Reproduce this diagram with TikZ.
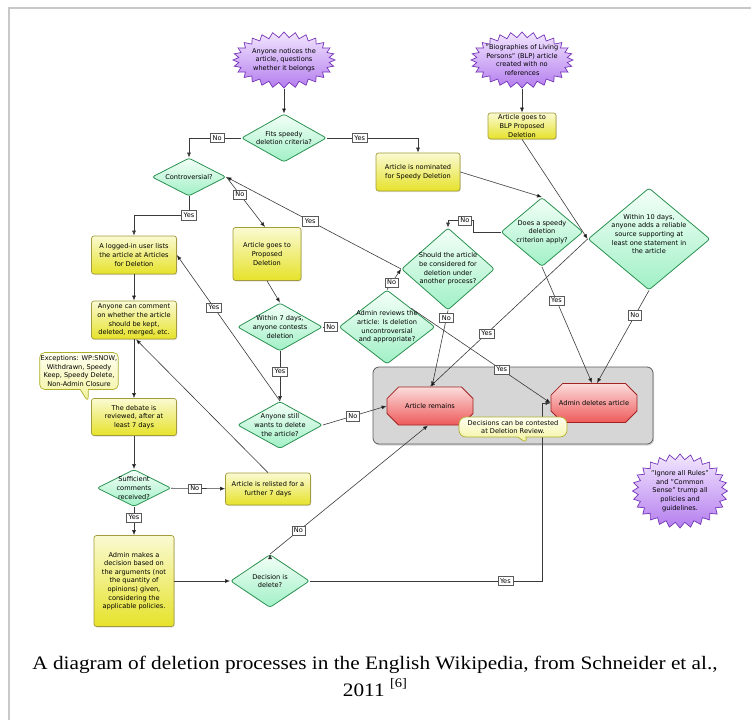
\documentclass[tikz,border=0pt]{standalone}
\usepackage{fontspec}
\setmainfont{Liberation Serif}
\setsansfont{DejaVu Sans}
\newfontfamily\capfont[FakeStretch=1.12]{Liberation Serif}
\usetikzlibrary{shapes.geometric,shapes.symbols,shapes.misc,shapes.callouts,arrows.meta,shadows}

\definecolor{boxtop}{HTML}{FAFAD2}
\definecolor{boxbot}{HTML}{E6E22A}
\definecolor{boxline}{HTML}{A39C3A}
\definecolor{qtop}{HTML}{F4FFF8}
\definecolor{qbot}{HTML}{A0F0C6}
\definecolor{qline}{HTML}{2A9150}
\definecolor{startop}{HTML}{F2E6FF}
\definecolor{starbot}{HTML}{B47EEE}
\definecolor{starline}{HTML}{7434B8}
\definecolor{endtop}{HTML}{FCDCDC}
\definecolor{endbot}{HTML}{EE5A5A}
\definecolor{endline}{HTML}{A22222}
\definecolor{notetop}{HTML}{FFFFF0}
\definecolor{notebot}{HTML}{F2F29A}
\definecolor{noteline}{HTML}{AFAF2E}
\definecolor{zonefill}{HTML}{D6D6D6}
\definecolor{zoneline}{HTML}{5E5E5E}
\definecolor{wire}{HTML}{3A3A3A}
\definecolor{frame}{HTML}{C8C8C8}

\begin{document}
\begin{tikzpicture}[x=1pt, y=-1pt, >={Latex[length=5pt,width=4pt]},
    every node/.style={font=\sffamily\fontsize{6.6}{8.6}\selectfont, align=center, text=black},
    size/.style 2 args={minimum width=#1pt, minimum height=#2pt},
    text node/.style={inner sep=0pt},
    say/.style={label={[text node]center:#1}},
    box node/.style={rectangle, rounded corners=2.5pt, draw=boxline, line width=0.7pt,
      top color=boxtop, bottom color=boxbot, inner sep=0.8pt,
      drop shadow={opacity=0.25, shadow xshift=0.8pt, shadow yshift=-1pt}},
    choice node/.style={diamond, rounded corners=2.5pt, draw=qline, line width=0.8pt,
      top color=qtop, bottom color=qbot, inner sep=0pt},
    star node/.style={starburst, starburst points=28, starburst point height=5.5pt,
      random starburst=0, draw=starline, line width=0.7pt,
      top color=startop, bottom color=starbot, inner sep=0pt},
    stop node/.style={chamfered rectangle, chamfered rectangle xsep=13pt,
      chamfered rectangle ysep=9pt, draw=endline, line width=0.8pt,
      top color=endtop, bottom color=endbot, inner sep=0pt},
    note node/.style={rectangle callout, rounded corners=5pt, draw=noteline, line width=0.7pt,
      top color=notetop, bottom color=notebot, callout pointer width=8pt, inner sep=1pt},
    zone node/.style={rectangle, rounded corners=6pt, draw=zoneline, line width=0.8pt,
      fill=zonefill, drop shadow={opacity=0.35, shadow xshift=1pt, shadow yshift=-1.5pt}},
    tag node/.style={rectangle, draw=black!65, fill=white, line width=0.5pt, text=black,
      inner xsep=2.2pt, inner ysep=1.5pt, text height=5.2pt, text depth=1.2pt},
    flow/.style={draw=wire, line width=0.6pt, ->}]

  \useasboundingbox (0,0) rectangle (751,720);
  \draw[frame, line width=1.5pt] (9,720) -- (9,8) -- (751,8);

  \node[zone node, size={280}{77}] (22) at (513,405.5) {};

  \node[star node, size={102}{56}, say={Anyone notices the\\article, questions\\whether it belongs}] (1) at (284,60) {};
  \node[choice node, size={85}{48}, say={Fits speedy\\deletion criteria?}] (2) at (284,138) {};
  \node[choice node, size={74}{38}, say={Controversial?}] (3) at (189,177) {};
  \node[box node, size={84}{38}] (4) at (418,172) {Article is nominated\\for Speedy Deletion};
  \node[star node, size={102}{56}, say={"Biographies of Living\\Persons" (BLP) article\\created with no\\references}] (5) at (522,60) {};
  \node[box node, size={68}{26}, inner ysep=0pt] (6) at (522,126) {Article goes to\\BLP Proposed\\Deletion};
  \node[choice node, size={82}{69}, say={Does a speedy\\deletion\\criterion apply?}] (7) at (542,232) {};
  \node[choice node, size={122}{102}, label={[text node, yshift=5pt]center:Within 10 days,\\anyone adds a reliable\\source supporting at\\least one statement in\\the article}] (8) at (649,239) {};
  \node[choice node, size={93}{82}, say={Should the article\\be considered for\\deletion under\\another process?}] (9) at (448,269) {};
  \node[choice node, size={96}{74}, say={Admin reviews the\\article: Is deletion\\uncontroversial\\and appropriate?}] (10) at (387,327) {};
  \node[box node, size={68}{53}] (11) at (267,254) {Article goes to\\Proposed\\Deletion};
  \node[choice node, size={85}{48}, say={Within 7 days,\\anyone contests\\deletion}] (12) at (280,327) {};
  \node[choice node, size={85}{47}, say={Anyone still\\wants to delete\\the article?}] (13) at (280,425) {};
  \node[box node, size={85}{38}] (14) at (134,255) {A logged-in user lists\\the article at Articles\\for Deletion};
  \node[box node, size={85}{38}] (15) at (134,320) {Anyone can comment\\on whether the article\\should be kept,\\deleted, merged, etc.};
  \node[note node, size={78}{37}, callout absolute pointer={(88,402)}] (16) at (79,371) {Exceptions: WP:SNOW,\\Withdrawn, Speedy\\Keep, Speedy Delete,\\Non-Admin Closure};
  \node[box node, size={85}{37}] (17) at (134,417) {The debate is\\reviewed, after at\\least 7 days};
  \node[choice node, size={74}{37}, say={Sufficient\\comments\\received?}] (18) at (134,488) {};
  \node[box node, size={85}{32}] (19) at (268,489) {Article is relisted for a\\further 7 days};
  \node[box node, size={80}{91}] (20) at (134,581) {Admin makes a\\decision based on\\the arguments (not\\the quantity of\\opinions) given,\\considering the\\applicable policies.};
  \node[choice node, size={79}{53}, say={Decision is\\delete?}] (21) at (270,581) {};
  \node[stop node, size={86}{38}] (23) at (430,406) {Article remains};
  \node[stop node, size={86}{39}] (24) at (594,403) {Admin deletes article};
  \node[star node, size={95}{74}, say={"Ignore all Rules"\\and "Common\\Sense" trump all\\policies and\\guidelines.}] (26) at (680,491) {};

  \path[flow]
    (1) edge (2)
    (5) edge (6)
    (4.east) edge (7.north)
    (6.south) edge (8.west)
    (11.south) edge (12.north)
    (14) edge (15)
    (15) edge (17)
    (17) edge (18)
    (20) edge (21)
    (19.north) edge ([xshift=2pt]15.south)
    (12) edge node[tag node] {No} (10)
    (12) edge node[tag node, pos=0.41] {Yes} (13)
    (13.north) edge node[tag node, pos=0.64] {Yes} (14.east)
    (13.east) edge node[tag node, pos=0.47] {No} (23.west)
    (18) edge node[tag node, pos=0.44] {No} (19)
    (18) edge node[tag node, pos=0.38] {Yes} (20)
    (3.east) edge node[tag node, pos=0.35] {No} ([xshift=-2pt]11.north)
    (9.west) edge node[tag node, pos=0.52] {Yes} (3.east)
    (10.north) edge node[tag node, pos=0.33] {No} (9.west)
    (10.north east) edge node[tag node, pos=0.65] {Yes} (24.west)
    (9.south) edge node[tag node, pos=0.1] {No} ([xshift=2pt]23.north)
    (8.west) edge node[tag node, pos=0.64] {Yes} (23.north)
    (7.south) edge node[tag node, pos=0.29] {Yes} ([xshift=-2pt]24.north)
    (8.south) edge node[tag node, pos=0.27] {No} ([xshift=3pt]24.north)
    (21.north) edge node[tag node, pos=0.18] {No} ([xshift=-2pt]23.south);
  \draw[flow] (2.west) -| node[tag node, pos=0.23] {No} (3.north);
  \draw[flow] (2.east) -| node[tag node, pos=0.18] {Yes} (4.north);
  \draw[flow] (3.south) -- ++(0,19) node[tag node] {Yes} -| (14.north);
  \draw[flow] (7.west) -- ++(-27,0) |- node[tag node, pos=0.67] {No} ([yshift=7pt]9.north) -- (9.north);
  \draw[flow] (21.east) -| node[tag node, pos=0.42] {Yes} ([xshift=-8pt]24.west) -- (24.west);

  \node[note node, rounded corners=7pt, size={108}{20}, callout absolute pointer={(528,444)}] (25) at (513,427) {Decisions can be contested\\at Deletion Review.};

  \node[font=\capfont\fontsize{19}{27}\selectfont, text=black] (27) at (375,676) {A diagram of deletion processes in the English Wikipedia, from Schneider et al.,\\2011 \raisebox{0.45em}{\fontsize{13}{13}\selectfont[6]}};
\end{tikzpicture}
\end{document}
